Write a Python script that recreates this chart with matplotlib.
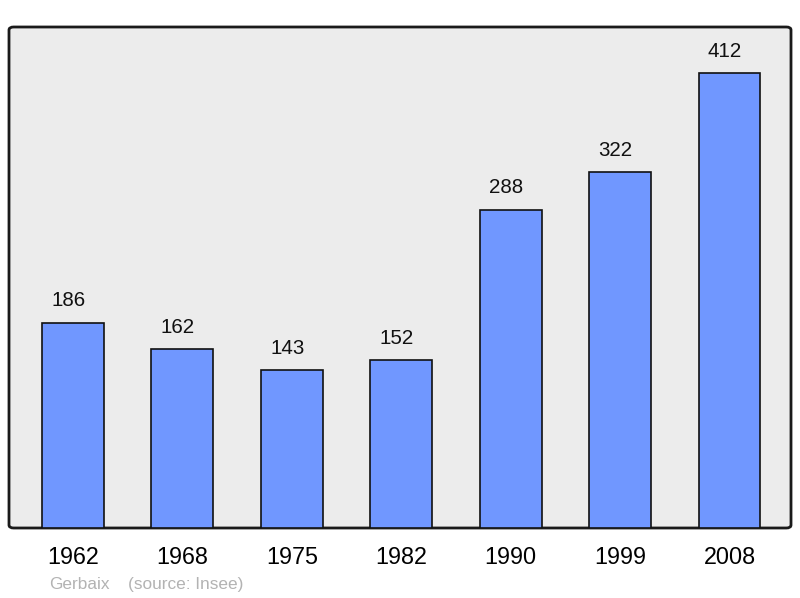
import matplotlib.pyplot as plt
from matplotlib.patches import FancyBboxPatch

annees = ['1962', '1968', '1975', '1982', '1990', '1999', '2008']
population = [186, 162, 143, 152, 288, 322, 412]

plt.rcParams['font.family'] = ['Liberation Sans', 'DejaVu Sans']

fig = plt.figure(figsize=(8, 5.98), dpi=100)
ax = fig.add_axes([9 / 800, 70 / 598, 782 / 800, 501 / 598])
ax.set_facecolor('none')

# fond gris avec coins arrondis
fond = FancyBboxPatch((0, 0), 1, 1, boxstyle='round,pad=0,rounding_size=0.006',
                      transform=ax.transAxes, facecolor='#ececec',
                      edgecolor='#1a1a1a', linewidth=2, zorder=0, clip_on=False)
ax.add_patch(fond)

x = range(len(annees))
barres = ax.bar(x, population, width=0.566, color='#7097ff',
                edgecolor='#111111', linewidth=1.2, zorder=2)
for xi, v in zip(x, population):
    ax.annotate(str(v), (xi, v), xytext=(-3.3, 15.8), textcoords='offset points',
                ha='center', va='center', fontsize=14.8, color='#111111')

ax.set_xlim(-0.584, 6.562)
ax.set_ylim(0, 453.6)
ax.set_xticks(list(x))
ax.set_xticklabels(annees, fontsize=16.8)
ax.tick_params(axis='x', length=0, pad=13)
ax.set_yticks([])
for s in ax.spines.values():
    s.set_visible(False)

fig.text(49 / 800, 1 - 589 / 598, 'Gerbaix', color='#b3b3b3', fontsize=12.4, va='baseline')
fig.text(128 / 800, 1 - 589 / 598, '(source: Insee)', color='#b3b3b3', fontsize=12.4, va='baseline')

fig.savefig('out.png', dpi=100)
